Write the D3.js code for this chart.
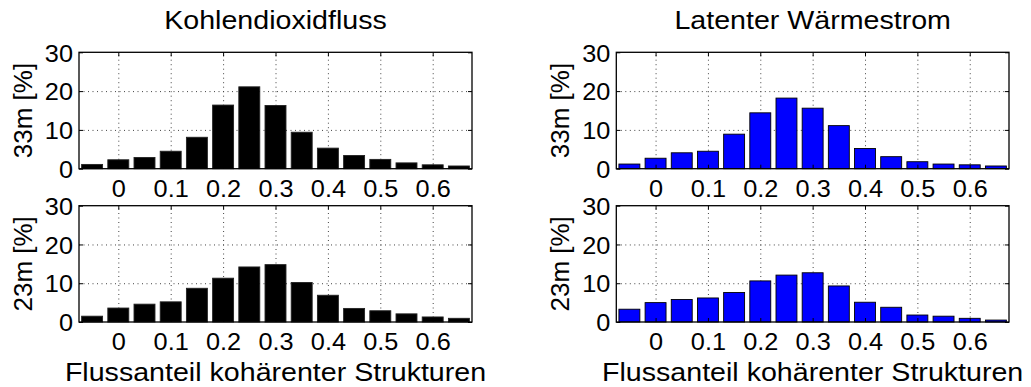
<!DOCTYPE html>
<html><head><meta charset="utf-8">
<script src="https://cdn.jsdelivr.net/npm/d3@7"></script>
<style>
body{margin:0;background:#fff}
svg{display:block}
text{font-family:"Liberation Sans",Arial,Helvetica,sans-serif;fill:#000}
</style></head>
<body><svg id="c" width="1031" height="387"></svg>
<script>
// ---- data ----
const binCenters = [-0.05, 0, 0.05, 0.1, 0.15, 0.2, 0.25, 0.3, 0.35, 0.4, 0.45, 0.5, 0.55, 0.6, 0.65];
const co2_33m = [1.1, 2.3, 2.9, 4.5, 8.1, 16.4, 21.1, 16.3, 9.4, 5.3, 3.4, 2.4, 1.5, 1.0, 0.7];
const co2_23m = [1.5, 3.6, 4.6, 5.2, 8.7, 11.3, 14.2, 14.8, 10.2, 6.9, 3.5, 2.9, 2.1, 1.3, 0.95];
const le_33m  = [1.2, 2.7, 4.1, 4.5, 8.9, 14.4, 18.2, 15.6, 11.1, 5.2, 3.1, 1.8, 1.2, 1.0, 0.7];
const le_23m  = [3.3, 5.0, 5.8, 6.2, 7.6, 10.6, 12.1, 12.7, 9.3, 5.1, 3.8, 1.8, 1.5, 0.95, 0.5];
const xTicks = [0, 0.1, 0.2, 0.3, 0.4, 0.5, 0.6];
const xTickLabels = ["0", "0.1", "0.2", "0.3", "0.4", "0.5", "0.6"];
const yTicks = [0, 10, 20, 30];
const titles = ["Kohlendioxidfluss", "Latenter Wärmestrom"];
const rowLabels = ["33m [%]", "23m [%]"];
const xLabel = "Flussanteil kohärenter Strukturen";
const colors = ["#000000", "#0000ff"];

// ---- layout ----
const SX = 1.1; // horizontal text stretch of the original export
const cols = [{x0: 79, x1: 472}, {x0: 616.3, x1: 1009}];
const rows = [{y0: 52.3, y1: 168.7}, {y0: 205.7, y1: 322}];
const panels = [
  {c: 0, r: 0, data: co2_33m},
  {c: 0, r: 1, data: co2_23m},
  {c: 1, r: 0, data: le_33m},
  {c: 1, r: 1, data: le_23m}
];

const svg = d3.select("#c");

function hText(sel, x, y, str, size, anchor) {
  const g = sel.append("g").attr("transform", `translate(${x},${y}) scale(${SX},1)`);
  g.append("text").attr("text-anchor", anchor || "middle").attr("font-size", size).text(str);
  return g;
}

panels.forEach(p => {
  const col = cols[p.c], row = rows[p.r];
  const x = d3.scaleLinear().domain([-0.075, 0.675]).range([col.x0, col.x1]);
  const y = d3.scaleLinear().domain([0, 30]).range([row.y1, row.y0]);
  const g = svg.append("g");
  const w = col.x1 - col.x0, h = row.y1 - row.y0;

  // grid (dotted)
  const gx = g.append("g").attr("transform", `translate(0,${row.y1})`)
    .call(d3.axisBottom(x).tickValues(xTicks).tickSize(-h).tickFormat(""));
  const gy = g.append("g").attr("transform", `translate(${col.x0},0)`)
    .call(d3.axisLeft(y).tickValues([10, 20]).tickSize(-w).tickFormat(""));
  [gx, gy].forEach(a => {
    a.select(".domain").remove();
    a.selectAll("line").attr("stroke", "#444").attr("stroke-width", 1).attr("stroke-dasharray", "1,3.5");
  });

  // bars
  const bw = 0.04;
  g.append("g").selectAll("rect").data(p.data).join("rect")
    .attr("x", (d, i) => x(binCenters[i] - bw / 2))
    .attr("width", (d, i) => x(binCenters[i] + bw / 2) - x(binCenters[i] - bw / 2))
    .attr("y", d => y(d))
    .attr("height", d => y(0) - y(d))
    .attr("fill", colors[p.c])
    .attr("stroke", p.c === 0 ? "#222" : "#000")
    .attr("stroke-width", 0.9);

  // inside tick marks on all four sides
  const tk = 4;
  const axB = g.append("g").attr("transform", `translate(0,${row.y1})`).call(d3.axisBottom(x).tickValues(xTicks).tickSize(-tk).tickFormat(""));
  const axT = g.append("g").attr("transform", `translate(0,${row.y0})`).call(d3.axisTop(x).tickValues(xTicks).tickSize(-tk).tickFormat(""));
  const axL = g.append("g").attr("transform", `translate(${col.x0},0)`).call(d3.axisLeft(y).tickValues(yTicks).tickSize(-tk).tickFormat(""));
  const axR = g.append("g").attr("transform", `translate(${col.x1},0)`).call(d3.axisRight(y).tickValues(yTicks).tickSize(-tk).tickFormat(""));
  [axB, axT, axL, axR].forEach(a => {
    a.select(".domain").remove();
    a.selectAll("line").attr("stroke", "#000").attr("stroke-width", 1);
  });

  // box
  g.append("rect").attr("x", col.x0).attr("y", row.y0).attr("width", w).attr("height", h)
    .attr("fill", "none").attr("stroke", "#000").attr("stroke-width", 1.3);

  // tick labels
  const lb = g.append("g").attr("transform", `translate(0,${row.y1})`)
    .call(d3.axisBottom(x).tickValues(xTicks).tickSize(0).tickFormat((d, i) => xTickLabels[i]));
  lb.select(".domain").remove();
  lb.selectAll("text").attr("font-size", 23).attr("font-family", null).attr("fill", "#000")
    .attr("y", 28.5).attr("dy", 0).attr("transform", `scale(${SX},1)`);

  const ll = g.append("g").attr("transform", `translate(${col.x0},0)`)
    .call(d3.axisLeft(y).tickValues(yTicks).tickSize(0).tickFormat(d3.format("d")));
  ll.select(".domain").remove();
  ll.selectAll("text").attr("font-size", 23).attr("font-family", null).attr("fill", "#000")
    .attr("x", -5.5).attr("dy", "0.38em").attr("transform", `scale(${SX},1)`);

  // row label
  g.append("text").attr("font-size", 26).attr("text-anchor", "middle")
    .attr("transform", `translate(${col.x0 - 47},${(row.y0 + row.y1) / 2}) rotate(-90)`)
    .text(rowLabels[p.r]);

  if (p.r === 0) hText(svg, (col.x0 + col.x1) / 2, 29, titles[p.c], 26);
  if (p.r === 1) hText(svg, (col.x0 + col.x1) / 2, 381, xLabel, 26);
});
</script></body></html>
